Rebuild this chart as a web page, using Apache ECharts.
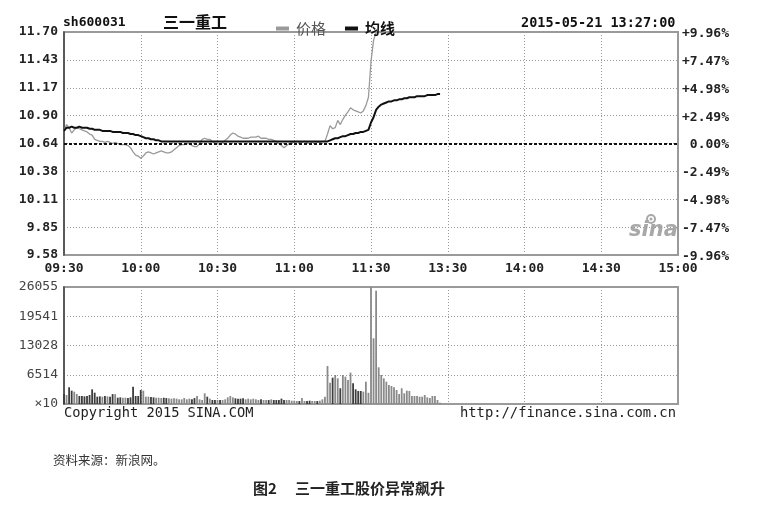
<!DOCTYPE html>
<html>
<head>
<meta charset="utf-8">
<script src="https://cdn.jsdelivr.net/npm/echarts@6/dist/echarts.min.js"></script>
<style>html,body{margin:0;padding:0;background:#fff;}#c{width:776px;height:515px;}</style>
</head>
<body>
<div id="c"></div>
<script>
// ---- data (minute index 0 = 09:30, 120 = 11:30/13:00, 240 = 15:00) ----
const timeLabels = ['09:30','10:00','10:30','11:00','11:30','13:30','14:00','14:30','15:00'];
const priceTicks = ['9.58','9.85','10.11','10.38','10.64','10.90','11.17','11.43','11.70'];
const pctTicks = ['-9.96%','-7.47%','-4.98%','-2.49%',' 0.00%','+2.49%','+4.98%','+7.47%','+9.96%'];
const volTicks = ['×10','6514','13028','19541','26055'];
const prevClose = 10.64;
const priceMin = 9.58, priceMax = 11.70;
const volMax = 26055;

const price = [
10.76,10.82,10.79,10.74,10.77,10.79,10.78,10.77,10.76,10.75,
10.73,10.72,10.68,10.67,10.66,10.66,10.65,10.66,10.65,10.64,
10.65,10.64,10.63,10.63,10.63,10.62,10.60,10.56,10.53,10.52,
10.50,10.52,10.55,10.56,10.55,10.54,10.55,10.56,10.57,10.56,
10.55,10.55,10.56,10.58,10.60,10.62,10.63,10.63,10.64,10.64,
10.62,10.61,10.61,10.64,10.68,10.69,10.68,10.68,10.66,10.64,
10.64,10.63,10.65,10.67,10.69,10.72,10.74,10.73,10.71,10.70,
10.69,10.69,10.69,10.70,10.70,10.70,10.71,10.69,10.69,10.69,
10.68,10.68,10.67,10.66,10.64,10.62,10.60,10.62,10.64,10.65,
10.65,10.66,10.65,10.65,10.66,10.65,10.64,10.65,10.66,10.65,
10.65,10.66,10.66,10.73,10.81,10.78,10.79,10.86,10.82,10.87,
10.91,10.94,10.98,10.96,10.95,10.94,10.93,10.95,11.00,11.08,
11.42,11.62,11.70,11.70,11.70,11.70,11.70,11.70,11.70,11.70,
11.70,11.70,11.70,11.70,11.70,11.70,11.70,11.70,11.70,11.70,
11.70,11.70,11.70,11.70,11.70,11.70,11.70,11.70
];
const avgPrice = [
10.76,10.79,10.79,10.80,10.79,10.79,10.80,10.79,10.79,10.79,
10.78,10.78,10.77,10.77,10.77,10.76,10.76,10.76,10.76,10.75,
10.75,10.75,10.75,10.74,10.74,10.74,10.73,10.73,10.72,10.72,
10.71,10.70,10.69,10.69,10.68,10.68,10.67,10.67,10.66,10.66,
10.66,10.66,10.66,10.66,10.66,10.66,10.66,10.66,10.66,10.66,
10.66,10.66,10.66,10.66,10.66,10.66,10.66,10.66,10.66,10.66,
10.66,10.66,10.66,10.66,10.66,10.66,10.66,10.66,10.66,10.66,
10.66,10.66,10.66,10.66,10.66,10.66,10.66,10.66,10.66,10.66,
10.66,10.66,10.66,10.66,10.66,10.66,10.66,10.66,10.66,10.66,
10.66,10.66,10.66,10.66,10.66,10.66,10.66,10.66,10.66,10.66,
10.66,10.66,10.66,10.66,10.67,10.68,10.69,10.69,10.70,10.71,
10.71,10.72,10.73,10.73,10.74,10.74,10.75,10.75,10.76,10.77,
10.84,10.89,10.96,10.99,11.01,11.02,11.03,11.04,11.04,11.05,
11.05,11.06,11.06,11.07,11.07,11.08,11.08,11.08,11.09,11.09,
11.09,11.09,11.10,11.10,11.10,11.10,11.11,11.11
];
const volume = [
2230,2000,3720,2970,2750,2230,1780,1780,1700,1780,
2000,3270,2520,1630,1700,1630,1780,1700,1630,2200,
2200,1400,1480,1400,1400,1330,1480,3850,1780,1780,
3120,2970,1630,1630,1560,1480,1400,1400,1330,1400,
1330,1260,1190,1260,1190,1040,1040,1330,1040,1190,
1040,1330,1780,1040,890,2380,1630,1190,890,890,
890,890,890,1040,1480,1780,1480,1260,1190,1190,
1260,1040,1190,1040,1190,1040,890,1040,890,890,
890,1040,890,890,890,1190,890,890,890,740,
740,670,670,1330,670,670,740,670,670,670,
740,1040,1600,8460,4750,5860,6460,5720,3500,6460,
6090,5340,6980,4600,3270,2900,2900,2750,4970,2500,
26055,14630,25230,8170,6460,5720,4970,4230,4010,3720,
3120,2230,3500,2380,2970,2900,1780,1780,1780,1630,
1630,2000,1480,1330,1780,1780,900,300
];

// ---- chart ----
const MONO = '"DejaVu Sans Mono", "Liberation Mono", monospace';
const CJK = '"Noto Sans CJK SC", sans-serif';
const gridLine = {show:true, lineStyle:{type:[1,2], color:'#999', width:1}};

const chart = echarts.init(document.getElementById('c'), null, {renderer:'canvas'});
const volData = volume.map((v,i) => ({
  value:[i, v],
  itemStyle:{color: (i>0 && price[i] < price[i-1]) || i===0 ? '#3c3c3c' : '#8a8a8a'}
}));

chart.setOption({
  animation:false,
  backgroundColor:'#fff',
  textStyle:{fontFamily:MONO},
  grid:[
    {left:64, top:32, width:614, height:223, show:true, borderColor:'#9a9a9a', borderWidth:2, containLabel:false},
    {left:64, top:287, width:614, height:117, show:true, borderColor:'#9a9a9a', borderWidth:2, containLabel:false}
  ],
  legend:{
    left:271, top:16, icon:'rect', itemWidth:13, itemHeight:4, itemGap:19,
    textStyle:{fontFamily:CJK, fontSize:15, lineHeight:15, color:'#222', padding:[0,0,0,2]},
    data:[{name:'价格', textStyle:{color:'#555'}}, {name:'均线', textStyle:{color:'#111', fontWeight:'bold'}}]
  },
  xAxis:[
    {gridIndex:0, type:'value', min:0, max:240, interval:30,
     axisLine:{show:false}, axisTick:{show:false},
     axisLabel:{formatter:v => timeLabels[Math.round(v/30)], fontFamily:MONO, fontWeight:'bold', fontSize:13, color:'#222', margin:7, showMinLabel:true, showMaxLabel:true},
     splitLine:gridLine},
    {gridIndex:1, type:'value', min:0, max:240, interval:30,
     axisLine:{show:false}, axisTick:{show:false}, axisLabel:{show:false},
     splitLine:gridLine}
  ],
  yAxis:[
    {gridIndex:0, type:'value', min:priceMin, max:priceMax, show:false},
    {gridIndex:0, type:'value', min:0, max:8, interval:1, position:'left',
     axisLine:{show:true, lineStyle:{color:'#444', width:1.5}}, axisTick:{show:false},
     axisLabel:{formatter:v => priceTicks[Math.round(v)], fontFamily:MONO, fontWeight:'bold', fontSize:13, color:'#222', margin:6},
     splitLine:gridLine},
    {gridIndex:0, type:'value', min:0, max:8, interval:1, position:'right',
     axisLine:{show:false}, axisTick:{show:false},
     axisLabel:{formatter:v => pctTicks[Math.round(v)], fontFamily:MONO, fontWeight:'bold', fontSize:13, color:'#222', margin:4, verticalAlign:'top', padding:[-5,0,0,0]},
     splitLine:{show:false}},
    {gridIndex:1, type:'value', min:0, max:volMax, interval:volMax/4, position:'left',
     axisLine:{show:true, lineStyle:{color:'#444', width:1.5}}, axisTick:{show:false},
     axisLabel:{formatter:v => volTicks[Math.round(v/(volMax/4))], fontFamily:MONO, fontSize:13, color:'#444', margin:6},
     splitLine:gridLine}
  ],
  series:[
    {name:'价格', type:'line', xAxisIndex:0, yAxisIndex:0, showSymbol:false, symbol:'none',
     data:price.map((p,i)=>[i,p]), lineStyle:{color:'#9a9a9a', width:1.3}, itemStyle:{color:'#9a9a9a'}, z:3,
     markLine:{silent:true, symbol:'none', label:{show:false},
       lineStyle:{color:'#111', type:[3,2], width:2}, data:[{yAxis:prevClose}]}},
    {name:'均线', type:'line', xAxisIndex:0, yAxisIndex:0, showSymbol:false, symbol:'none',
     data:avgPrice.map((p,i)=>[i,p]), lineStyle:{color:'#111', width:2}, itemStyle:{color:'#111'}, z:4},
    {name:'成交量', type:'bar', xAxisIndex:1, yAxisIndex:3, barWidth:1.8, data:volData, z:3}
  ],
  graphic:[
    {type:'text', left:63, top:16, style:{text:'sh600031', font:'bold 13px '+MONO, fill:'#111'}},
    {type:'text', left:163, top:14, style:{text:'三一重工', font:'bold 16px '+CJK, fill:'#111'}},
    {type:'text', left:521, top:16, style:{text:'2015-05-21 13:27:00', font:'bold 13.5px '+MONO, fill:'#111'}},
    {type:'text', left:64, top:406, style:{text:'Copyright 2015 SINA.COM', font:'13.7px '+MONO, fill:'#222'}},
    {type:'text', left:460, top:406, style:{text:'http://finance.sina.com.cn', font:'13.8px '+MONO, fill:'#222'}},
    {type:'text', left:629, top:220, style:{text:'sina', font:'italic bold 21px "DejaVu Sans", sans-serif', fill:'#a8a8a8'}},
    {type:'circle', shape:{cx:651, cy:219, r:4}, style:{fill:'none', stroke:'#a8a8a8', lineWidth:2}},
    {type:'circle', shape:{cx:651, cy:219, r:1.5}, style:{fill:'#a8a8a8'}},
    {type:'text', left:53, top:454, style:{text:'资料来源：新浪网。', font:'12.5px '+CJK, fill:'#333'}},
    {type:'text', left:253, top:481, style:{text:'图2', font:'bold 15px '+CJK, fill:'#222'}},
    {type:'text', left:295, top:481, style:{text:'三一重工股价异常飙升', font:'bold 15px '+CJK, fill:'#222'}}
  ]
});
</script>
</body>
</html>
